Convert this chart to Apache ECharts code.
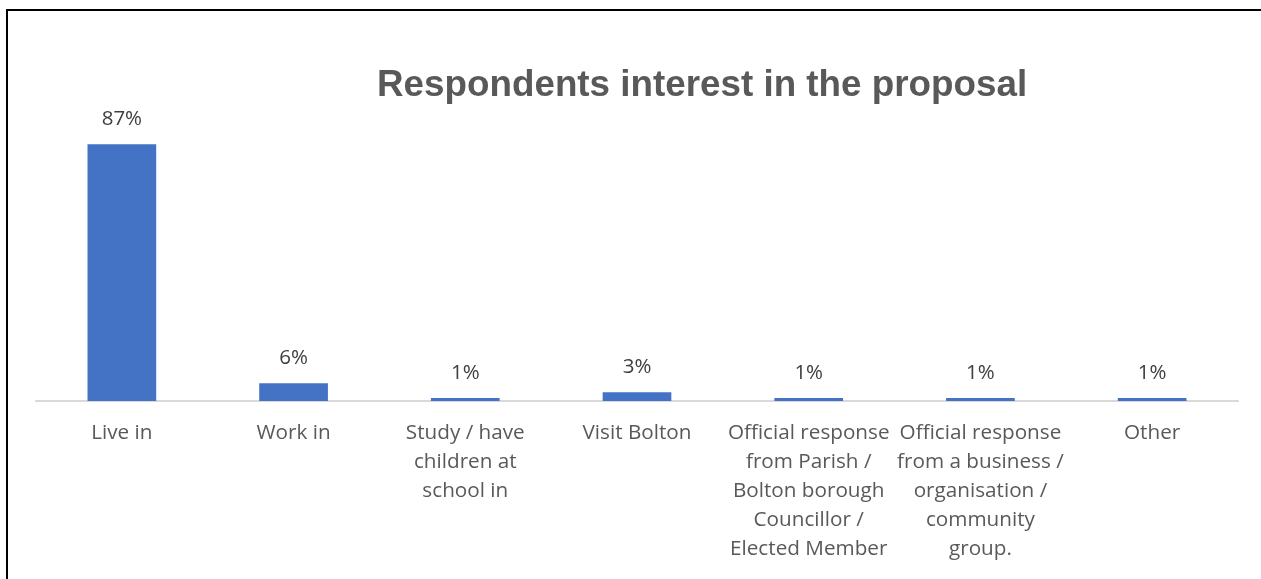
<!DOCTYPE html>
<html>
<head>
<meta charset="utf-8">
<style>
  html, body { margin: 0; padding: 0; background: #ffffff; overflow: hidden; }
  #chart { width: 1261px; height: 579px; }
</style>
<script src="https://cdn.jsdelivr.net/npm/echarts@6/dist/echarts.min.js"></script>
</head>
<body>
<div id="chart"></div>
<script>
// Respondent interest categories (line breaks as they wrap under the axis)
const categories = [
  'Live in',
  'Work in',
  'Study / have\nchildren at\nschool in',
  'Visit Bolton',
  'Official response\nfrom Parish /\nBolton borough\nCouncillor /\nElected Member',
  'Official response\nfrom a business /\norganisation /\ncommunity\ngroup.',
  'Other'
];

// Share of respondents, percent
const shares = [87, 6, 1, 3, 1, 1, 1];

const titleText = 'Respondents interest in the proposal';

const chart = echarts.init(document.getElementById('chart'));

chart.setOption({
  animation: false,
  backgroundColor: '#ffffff',
  title: {
    text: titleText,
    left: 372,
    top: 62,
    textStyle: {
      fontFamily: '"Liberation Sans", Arial, sans-serif',
      fontWeight: 'bold',
      fontSize: 36.8,
      color: '#595959'
    }
  },
  graphic: [{
    // chart-area frame: left and top edges
    type: 'polyline',
    shape: { points: [[7, 700], [7, 10], [1400, 10]] },
    style: { fill: 'none', stroke: '#000000', lineWidth: 2 },
    silent: true
  }],
  grid: {
    left: 36,
    right: 23,
    top: 106,
    bottom: 178,
    containLabel: false
  },
  xAxis: {
    type: 'category',
    data: categories,
    axisLine: { show: true, lineStyle: { color: '#d9d9d9', width: 2 } },
    axisTick: { show: false },
    axisLabel: {
      interval: 0,
      hideOverlap: false,
      margin: 18,
      fontFamily: '"Open Sans", sans-serif',
      fontSize: 20.7,
      lineHeight: 29,
      color: '#595959',
      align: 'center'
    }
  },
  yAxis: {
    type: 'value',
    min: 0,
    max: 100,
    show: false,
    splitLine: { show: false }
  },
  series: [{
    type: 'bar',
    data: shares,
    barCategoryGap: '60%',
    itemStyle: { color: '#4472c4' },
    label: {
      show: true,
      position: 'top',
      distance: 13,
      formatter: (p) => p.value + '%',
      fontFamily: '"Open Sans", sans-serif',
      fontSize: 20.5,
      lineHeight: 24,
      color: '#404040'
    }
  }]
});
</script>
</body>
</html>
